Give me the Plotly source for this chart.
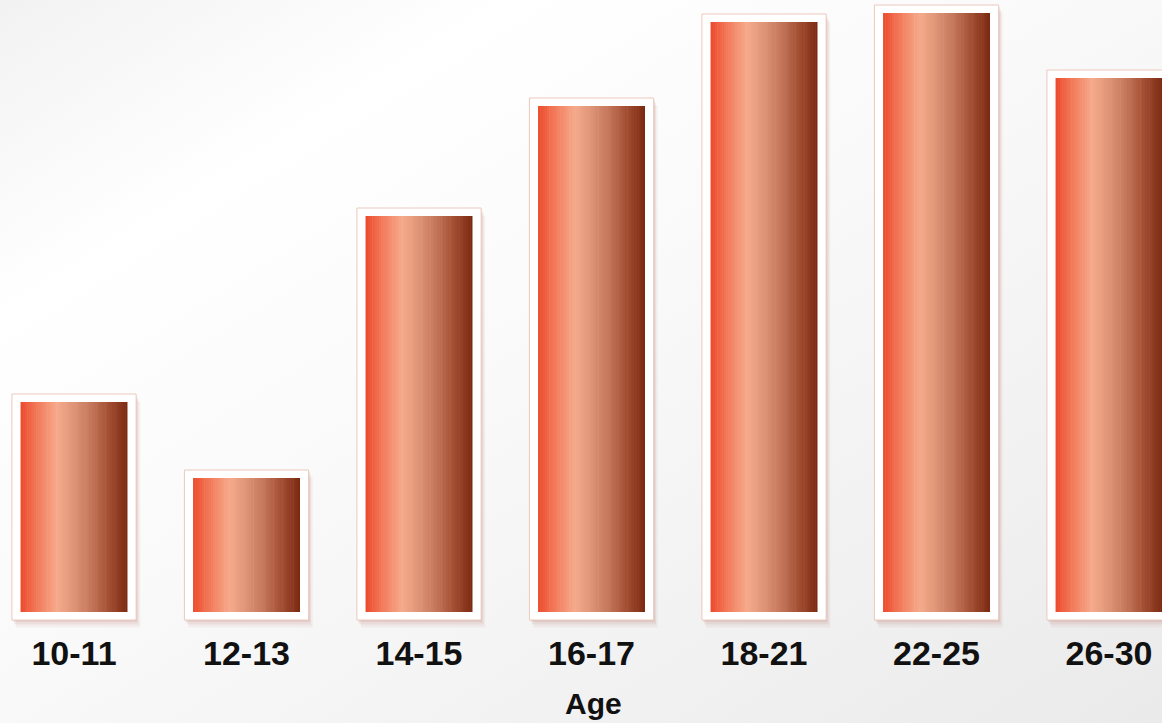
import base64
import numpy as np
import plotly.graph_objects as go

# ---- data ----
ages = ["10-11", "12-13", "14-15", "16-17", "18-21", "22-25", "26-30"]
values = [21.0, 13.4, 39.6, 50.6, 59.0, 59.9, 53.4]
x_title = "Age"

# ---- style ----
BAR_W = 0.62          # inner bar width (category units)
BORDER_X = 0.05       # white frame, horizontal (category units)
BORDER_Y = 0.8        # white frame, vertical (value units)
N_SLICES = 48
stops = [
    (0.00, (236, 74, 44)),
    (0.12, (241, 112, 80)),
    (0.34, (246, 170, 140)),
    (0.50, (222, 148, 118)),
    (0.66, (196, 118, 90)),
    (0.82, (164, 80, 52)),
    (1.00, (122, 40, 16)),
]


def grad_color(t):
    for (t0, c0), (t1, c1) in zip(stops[:-1], stops[1:]):
        if t0 <= t <= t1:
            f = (t - t0) / (t1 - t0)
            c = [round(a + (b - a) * f) for a, b in zip(c0, c1)]
            return f"rgb({c[0]},{c[1]},{c[2]})"
    return "rgb(%d,%d,%d)" % stops[-1][1]


fig = go.Figure()

outer_w = BAR_W + 2 * BORDER_X
heights_outer = [v + 2 * BORDER_Y for v in values]

# soft shadows (down/right)
for dx, dy, alpha in [(0.024, 0.75, 0.06), (0.014, 0.45, 0.09), (0.007, 0.2, 0.10)]:
    fig.add_trace(go.Bar(
        x=ages, y=heights_outer,
        base=-BORDER_Y - dy,
        width=outer_w, offset=-outer_w / 2 + dx,
        marker=dict(color=f"rgba(150,70,50,{alpha})", line=dict(width=0)),
        hoverinfo="skip", showlegend=False))

# white frame
fig.add_trace(go.Bar(
    x=ages, y=heights_outer, base=-BORDER_Y,
    width=outer_w, offset=-outer_w / 2,
    marker=dict(color="white", line=dict(color="rgb(236,200,190)", width=1)),
    hoverinfo="skip", showlegend=False))

# gradient slices
step = BAR_W / N_SLICES
for i in range(N_SLICES):
    t = (i + 0.5) / N_SLICES
    w = step * 1.25 if i < N_SLICES - 1 else step
    fig.add_trace(go.Bar(
        x=ages, y=values, base=0,
        width=w, offset=-BAR_W / 2 + i * step,
        marker=dict(color=grad_color(t), line=dict(width=0)),
        hoverinfo="skip", showlegend=False))

# background gradient image (svg)
svg = """<svg xmlns='http://www.w3.org/2000/svg' width='1162' height='723' viewBox='0 0 1162 723' preserveAspectRatio='none'>
<defs><linearGradient id='g' x1='0' y1='0' x2='1' y2='1'>
<stop offset='0' stop-color='#f2f2f2'/>
<stop offset='0.22' stop-color='#ffffff'/>
<stop offset='0.45' stop-color='#fafafa'/>
<stop offset='1' stop-color='#eaeaea'/>
</linearGradient></defs>
<rect width='1162' height='723' fill='url(#g)'/></svg>"""
src = "data:image/svg+xml;base64," + base64.b64encode(svg.encode()).decode()

H, W = 723, 1162
MB = 93
plot_h = H - MB

fig.update_layout(
    width=W, height=H,
    margin=dict(l=0, r=0, t=0, b=MB),
    barmode="overlay",
    paper_bgcolor="#f6f6f6",
    plot_bgcolor="rgba(0,0,0,0)",
    images=[dict(source=src, xref="paper", yref="paper", x=0, y=1,
                 sizex=1, sizey=H / plot_h, sizing="stretch", layer="below",
                 xanchor="left", yanchor="top")],
    xaxis=dict(type="category", range=[-0.429, 6.307], showgrid=False,
               zeroline=False, showline=False, ticks="",
               tickfont=dict(family="Liberation Sans, Arial", size=34,
                             color="#111111", weight="bold")),
    yaxis=dict(range=[-1.8, 61.2], visible=False, showgrid=False),
    annotations=[dict(text=x_title, xref="paper", yref="paper",
                      x=593 / W, y=(plot_h - 703) / plot_h,
                      xanchor="center", yanchor="middle", showarrow=False,
                      font=dict(family="Liberation Sans, Arial", size=30,
                                color="#111111", weight="bold"))],
)

fig.write_html(
    "out.html",
    config={"displayModeBar": False, "staticPlot": True},
    post_script="document.body.style.margin='0';document.body.style.overflow='hidden';",
)
